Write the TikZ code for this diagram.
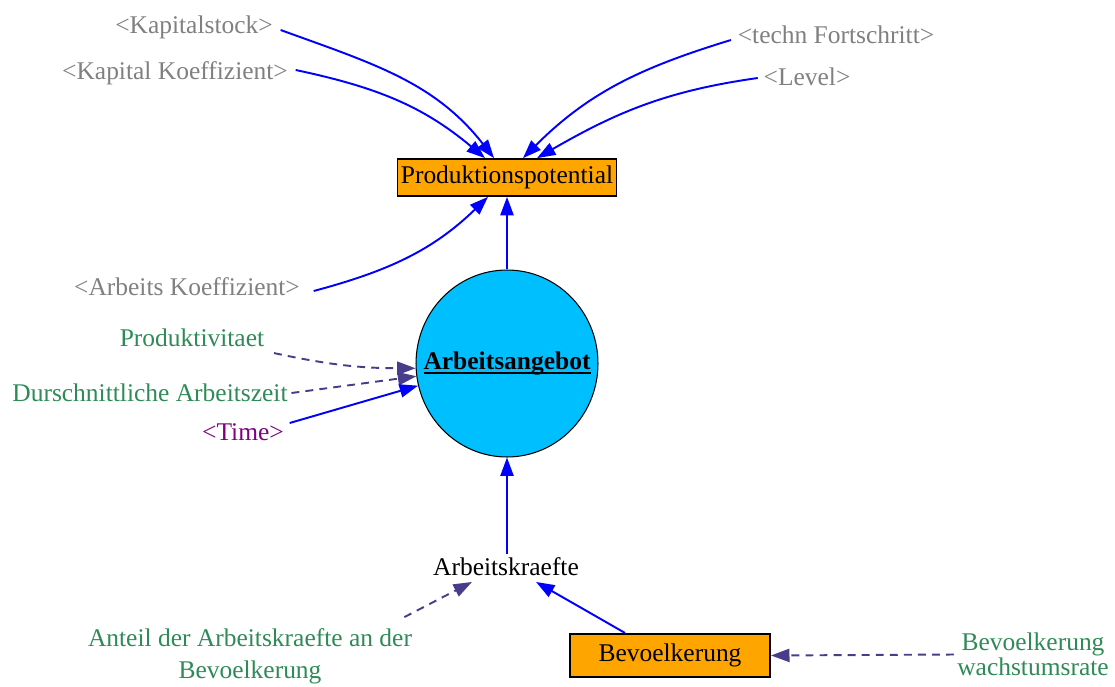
\documentclass[tikz,border=0pt]{standalone}
\usepackage{fontspec}
\setmainfont{Liberation Serif}
\usetikzlibrary{arrows.meta,shapes.geometric}

\definecolor{shadowgrey}{RGB}{128,128,128}
\definecolor{constgreen}{RGB}{46,139,87}
\definecolor{timepurple}{RGB}{128,0,128}
\definecolor{linkblue}{RGB}{0,0,255}
\definecolor{auxblue}{RGB}{72,61,139}
\definecolor{levelorange}{RGB}{255,165,0}
\definecolor{rateblue}{RGB}{0,191,255}

% bold text with a heavy underline
\newcommand\heavyul[1]{\setbox0\hbox{#1}\rlap{\rule[-2.6pt]{\wd0}{1.1pt}}\box0}

\begin{document}
\begin{tikzpicture}[x=0.02cm,y=-0.02cm,
  font=\fontsize{14.5}{17}\selectfont,
  lbl/.style={inner xsep=2pt,inner ysep=1pt},
  shadowvar/.style={lbl,text=shadowgrey},
  constvar/.style={lbl,text=constgreen},
  stockbox/.style={draw=black,line width=1pt,fill=levelorange,inner sep=0pt},
  tip/.style={-{Triangle[length=10.5pt,width=7.5pt]}},
  link/.style={tip,draw=linkblue,line width=1.1pt},
  auxlink/.style={tip,draw=auxblue,line width=1.1pt,dash pattern=on 4.5pt off 3.5pt}]
\useasboundingbox (0,0) rectangle (1115,686);

% central variables
\node[stockbox,minimum width=4.38cm,minimum height=0.74cm] (pp) at (507,177.5) {Produktionspotential};
\node[ellipse,draw=black,line width=0.6pt,fill=rateblue,inner sep=0pt,
      minimum width=3.64cm,minimum height=3.74cm] (ang) at (507,363.5)
      {\makebox[0pt]{\fontsize{14.5}{17}\selectfont\heavyul{\textbf{Arbeitsangebot}}}};
\node[inner sep=2pt] (ak) at (506,567) {Arbeitskraefte};
\node[stockbox,line width=1.2pt,minimum width=4.0cm,minimum height=0.86cm] (bev) at (670,655.5) {Bevoelkerung};

% shadow variables
\node[shadowvar] (ks) at (194,27) {<Kapitalstock>};
\node[shadowvar] (kk) at (175,73) {<Kapital Koeffizient>};
\node[shadowvar] (tf) at (836,35) {<techn Fortschritt>};
\node[shadowvar] (lv) at (807,77) {<Level>};
\node[shadowvar] (ak2) at (187,287) {<Arbeits Koeffizient>};
\node[lbl,text=timepurple] (tm) at (243,432) {<Time>};

% constants
\node[constvar] (pr) at (192,338) {Produktivitaet};
\node[constvar] (du) at (150,393) {Durschnittliche Arbeitszeit};
\node[constvar,align=center,inner sep=0pt,font=\fontsize{14.5}{18}\selectfont] (ant) at (250,656)
  {Anteil der Arbeitskraefte an der\\Bevoelkerung};
\node[constvar,align=center,inner sep=0pt,font=\fontsize{14.5}{14.2}\selectfont] (wr) at (1033,654.5)
  {Bevoelkerung\\wachstumsrate};

% inputs of Produktionspotential
\draw[link] ([shift={(4,3)}]ks.east) to[out=-20,in=128] ([xshift=-0.26cm]pp.north);
\draw[link] ([shift={(4,-3)}]kk.east) to[out=-12,in=140] ([xshift=-0.44cm]pp.north);
\draw[link] ([shift={(-3,5)}]tf.west) to[out=197,in=45] ([xshift=0.32cm]pp.north);
\draw[link] ([shift={(-2,1)}]lv.west) to[out=188,in=30] ([xshift=0.6cm]pp.north);
\draw[link] ([shift={(10,4)}]ak2.east) to[out=15,in=-136] ([xshift=-0.38cm]pp.south);
\draw[link] (ang.north) -- (pp.south);

% inputs of Arbeitsangebot
\draw[auxlink] ([shift={(6,4)}]pr.south east) to[bend right=6] (ang.183);
\draw[auxlink] (du.east) -- (ang.188);
\draw[link] ([shift={(2,-9)}]tm.east) -- (ang.194);
\draw[link] (ak.north -| ang.south) -- (ang.south);

% inputs of Arbeitskraefte and Bevoelkerung
\draw[auxlink] ([shift={(-8,-11)}]ant.north east) -- ([shift={(-34,2)}]ak.south);
\draw[link] ([shift={(-45,0)}]bev.north) -- ([shift={(30,2)}]ak.south);
\draw[auxlink] ([xshift=-0.06cm]wr.west) -- (bev.east);
\end{tikzpicture}
\end{document}
